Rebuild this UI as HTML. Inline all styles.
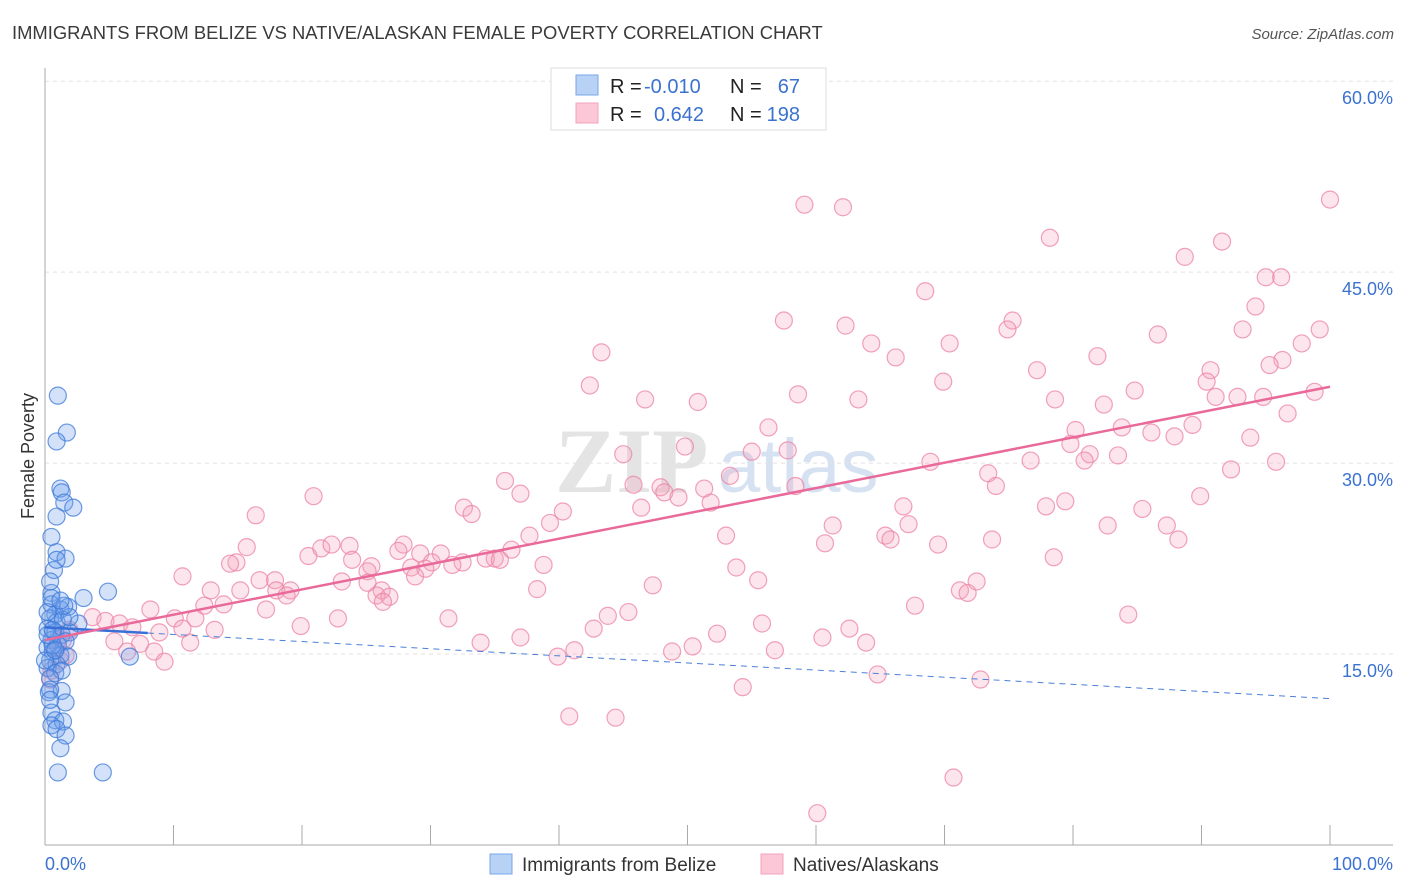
<!DOCTYPE html>
<html><head><meta charset="utf-8"><style>
body{margin:0;background:#fff;font-family:"Liberation Sans",sans-serif}
svg{display:block}
</style></head><body>
<svg id="chart" width="1406" height="892" viewBox="0 0 1406 892" xmlns="http://www.w3.org/2000/svg">
<text x="12" y="39" font-size="18.4" fill="#3a3a3a" font-family="Liberation Sans, sans-serif">IMMIGRANTS FROM BELIZE VS NATIVE/ALASKAN FEMALE POVERTY CORRELATION CHART</text>
<text x="1394" y="39" font-size="15" fill="#555" font-style="italic" text-anchor="end" font-family="Liberation Sans, sans-serif">Source: ZipAtlas.com</text>
<g font-family="Liberation Serif, serif">
<text x="555" y="492" font-size="92" fill="#e4e4e4" font-weight="bold">ZIP</text>
<text x="718" y="492" font-size="76" fill="#d6e2f2" font-family="Liberation Sans, sans-serif">atlas</text>
</g>
<g id="grid"></g>
<g id="axes"></g>
<g id="marks"></g>
<g id="trends"></g>
<text transform="translate(34,456) rotate(-90)" font-size="18" fill="#333" text-anchor="middle" font-family="Liberation Sans, sans-serif">Female Poverty</text>
<g>
<rect x="551" y="68" width="275" height="62" fill="#fff" stroke="#ddd"/>
<rect x="576" y="75" width="22" height="20" fill="#b8d2f5" stroke="#7aa6e8"/>
<rect x="576" y="103" width="22" height="20" fill="#fcc7d6" stroke="#f0a3ba"/>
<g font-size="20" font-family="Liberation Sans, sans-serif">
<text x="610" y="93" fill="#222">R =</text><text x="644" y="93" fill="#3b72d0">-0.010</text>
<text x="730" y="93" fill="#222">N =</text><text x="800" y="93" fill="#3b72d0" text-anchor="end">67</text>
<text x="610" y="121" fill="#222">R =</text><text x="654" y="121" fill="#3b72d0">0.642</text>
<text x="730" y="121" fill="#222">N =</text><text x="800" y="121" fill="#3b72d0" text-anchor="end">198</text>
</g></g>
<g font-size="19" fill="#333" font-family="Liberation Sans, sans-serif">
<rect x="490" y="854" width="22" height="20" fill="#b8d2f5" stroke="#7aa6e8"/>
<text x="522" y="871">Immigrants from Belize</text>
<rect x="761" y="854" width="22" height="20" fill="#fcc7d6" stroke="#f0a3ba"/>
<text x="793" y="871">Natives/Alaskans</text>
</g>
</svg>
<script>
const yTicks=[15,30,45,60];
const yTickLabels=["15.0%","30.0%","45.0%","60.0%"];
const xTicks=[0,10,20,30,40,50,60,70,80,90,100];
const blueX=[1.0,1.7,0.9,1.2,1.3,1.5,2.2,0.9,0.5,0.9,1.6,0.7,0.5,3.0,4.9,0.5,1.2,1.8,0.8,0.4,0.9,1.4,2.6,0.2,0.8,1.3,1.9,0.5,1.0,1.6,0.2,0.6,1.2,1.8,0.4,0.9,0.2,0.8,1.3,0.4,6.6,0.3,1.3,1.6,0.5,0.8,1.4,0.5,0.9,1.6,1.2,1.0,4.5,0.4,0.4,0.6,1.9,0,0.2,0.5,1.5,0.9,0.4,1.2,0.8,0.2,0.6];
const blueY=[35.3,32.4,31.7,28.0,27.7,26.9,26.5,25.8,24.2,23.0,22.5,21.6,19.8,19.4,19.9,18.9,18.5,18.7,18.1,17.8,17.5,17.7,17.4,17.0,16.7,16.5,16.7,16.1,15.7,16.0,15.5,15.2,14.9,14.8,14.5,14.2,13.9,13.5,13.7,13.1,14.8,12.0,12.1,11.2,10.4,9.8,9.7,9.4,9.1,8.6,7.6,5.7,5.7,12.2,11.4,15.7,17.9,14.5,18.3,19.4,18.8,22.4,20.7,19.2,15.3,16.5,16.9];
const pinkX=[59.1,62.1,100,78.2,91.6,88.7,95.0,96.2,68.5,57.5,62.3,75.3,74.9,94.2,99.2,93.2,86.6,43.3,64.3,70.4,66.2,81.9,97.8,96.3,95.3,77.2,90.7,90.4,69.9,42.4,58.6,84.8,91.1,92.8,94.8,98.8,78.6,63.3,46.7,50.8,82.4,96.7,56.3,83.8,80.2,89.3,86.1,87.9,79.8,49.8,93.8,55.0,57.8,45.0,81.3,83.5,80.9,76.7,68.9,95.8,92.3,73.4,53.3,47.9,45.8,48.2,51.3,58.4,74.0,20.9,35.8,37.0,49.3,89.9,79.4,77.9,46.4,51.8,66.8,32.6,33.2,16.4,40.3,85.4,67.2,61.3,39.3,82.7,87.3,65.4,65.8,53.0,15.7,60.7,69.5,73.7,88.2,37.7,14.9,14.4,20.5,21.5,22.3,23.7,27.9,27.5,29.2,23.9,30.8,36.3,35.0,34.3,35.4,32.5,31.7,30.1,28.5,29.6,25.4,25.1,78.5,53.8,38.8,28.8,10.7,16.7,17.9,23.1,25.1,18.0,19.1,18.8,12.9,26.2,25.8,26.8,26.3,15.2,38.3,47.3,55.5,71.2,71.8,72.5,13.9,12.4,17.2,8.2,10.1,11.7,22.8,31.4,43.8,45.4,84.3,67.7,19.9,3.7,4.7,5.8,6.8,13.2,8.9,10.7,37.0,42.7,52.3,55.8,62.6,60.5,63.9,33.9,5.4,7.4,1.4,11.3,8.5,6.4,39.9,41.2,48.8,50.4,56.8,9.3,64.8,54.3,72.8,40.8,44.4,70.7,60.1,0.8,1.2,0.5,1.9,1.0,1.6,0.4];
const pinkY=[50.3,50.1,50.7,47.7,47.4,46.2,44.6,44.6,43.5,41.2,40.8,41.2,40.5,42.3,40.5,40.5,40.1,38.7,39.4,39.4,38.3,38.4,39.4,38.1,37.7,37.3,37.3,36.4,36.4,36.1,35.4,35.7,35.2,35.2,35.2,35.6,35.0,35.0,35.0,34.8,34.6,33.9,32.8,32.8,32.6,33.0,32.4,32.1,31.5,31.3,32.0,30.9,31.0,30.7,30.7,30.6,30.2,30.2,30.1,30.1,29.5,29.2,29.0,28.1,28.3,27.7,28.0,28.2,28.2,27.4,28.6,27.6,27.3,27.4,27.0,26.6,26.5,26.9,26.6,26.5,26.0,25.9,26.2,26.4,25.2,25.1,25.3,25.1,25.1,24.3,24.0,24.3,23.4,23.7,23.6,24.0,24.0,24.3,22.2,22.1,22.7,23.3,23.6,23.5,23.6,23.1,22.9,22.4,22.9,23.2,22.5,22.5,22.4,22.2,22.0,22.2,21.8,21.7,21.9,21.5,22.6,21.8,22.0,21.1,21.1,20.8,20.8,20.7,20.6,20.0,20.0,19.6,20.0,20.0,19.6,19.5,19.1,20.0,20.1,20.4,20.8,20.0,19.8,20.7,18.9,18.8,18.5,18.5,17.8,17.8,17.8,17.8,18.0,18.3,18.1,18.8,17.2,17.9,17.6,17.4,17.1,16.9,16.7,17.0,16.3,17.0,16.6,17.4,17.0,16.3,15.9,15.9,16.0,15.8,16.1,15.9,15.2,15.2,14.8,15.3,15.2,15.6,15.3,14.4,13.4,12.4,13.0,10.1,10.0,5.3,2.5,15.3,14.5,13.7,16.9,16.1,14.9,13.0];
const blueTrend=[17.1,11.5];   // y at x=0, x=100
const pinkTrend=[16.1,36.0];
const blueSolidEnd=8;

const NS="http://www.w3.org/2000/svg";
const X0=45,X1=1330,Y0=845,PXY=12.73;
const sx=v=>X0+(X1-X0)*v/100;
const sy=v=>Y0-v*PXY;
function mk(tag,attrs,parent){const e=document.createElementNS(NS,tag);for(const k in attrs)e.setAttribute(k,attrs[k]);parent.appendChild(e);return e;}
const grid=document.getElementById('grid'),axes=document.getElementById('axes'),marks=document.getElementById('marks'),trends=document.getElementById('trends');
yTicks.forEach((t,i)=>{
  const l=mk('line',{x1:X0,x2:1393,y1:sy(t),y2:sy(t),stroke:'#e2e2e2','stroke-dasharray':'4 4'},grid);
  
  
  const tx=mk('text',{x:1393,y:sy(t)+23,'font-size':18,fill:'#3b72d0','text-anchor':'end','font-family':'Liberation Sans, sans-serif'},axes);
  tx.textContent=yTickLabels[i];
  
  
});
const ya=mk('line',{x1:X0,x2:X0,y1:68,y2:Y0,stroke:'#aaa'},axes);


const xa=mk('line',{x1:X0,x2:1393,y1:Y0,y2:Y0,stroke:'#aaa'},axes);


xTicks.forEach(t=>{
  const l=mk('line',{x1:sx(t),x2:sx(t),y1:Y0,y2:Y0-20,stroke:'#aaa'},axes);
  
  
});
const xl0=mk('text',{x:45,y:870,'font-size':18,fill:'#3b72d0','font-family':'Liberation Sans, sans-serif'},axes);
xl0.textContent='0.0%';


const xl1=mk('text',{x:1393,y:870,'font-size':18,fill:'#3b72d0','text-anchor':'end','font-family':'Liberation Sans, sans-serif'},axes);
xl1.textContent='100.0%';



pinkX.forEach((x,i)=>{
  const c=mk('circle',{cx:sx(x),cy:sy(pinkY[i]),r:8.5,fill:'rgba(246,160,188,0.28)',stroke:'rgba(236,130,165,0.75)','stroke-width':1.2},marks);
  
  
});
blueX.forEach((x,i)=>{
  const c=mk('circle',{cx:sx(x),cy:sy(blueY[i]),r:8.5,fill:'rgba(110,160,235,0.3)',stroke:'rgba(60,120,215,0.75)','stroke-width':1.2},marks);
  
  
});
const by=x=>blueTrend[0]+(blueTrend[1]-blueTrend[0])*x/100;
const py=x=>pinkTrend[0]+(pinkTrend[1]-pinkTrend[0])*x/100;
const bd=mk('line',{x1:sx(blueSolidEnd),y1:sy(by(blueSolidEnd)),x2:sx(100),y2:sy(by(100)),stroke:'#4a7fd8','stroke-width':1,'stroke-dasharray':'6 5'},trends);


const bs=mk('line',{x1:sx(0),y1:sy(by(0)),x2:sx(blueSolidEnd),y2:sy(by(blueSolidEnd)),stroke:'#3a6fd8','stroke-width':2.5},trends);


const pl=mk('line',{x1:sx(0),y1:sy(py(0)),x2:sx(100),y2:sy(py(100)),stroke:'#e8699a','stroke-width':2.5},trends);


</script>
</body></html>
